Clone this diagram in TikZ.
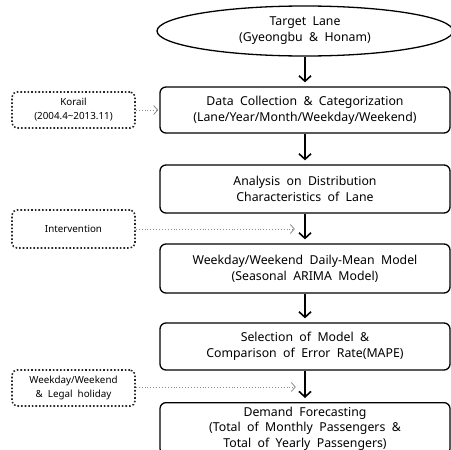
\documentclass[tikz,border=0pt]{standalone}
\usepackage{fontspec}
\setmainfont[WordSpace=2]{Noto Sans}
\usetikzlibrary{shapes.geometric,arrows.meta}
\begin{document}
\begin{tikzpicture}[x=1pt,y=-1pt,
  mainfont/.style={font=\fontsize{12.3}{16}\selectfont},
  mainbox/.style={draw=black,line width=1.3pt,rounded corners=6pt,minimum width=290pt,align=center,mainfont,inner sep=0pt},
  sidebox/.style={draw=black!85,line width=1.6pt,dotted,rounded corners=5pt,minimum width=123pt,align=center,font=\fontsize{9.8}{14}\selectfont,inner sep=0pt},
  flow/.style={line width=1.8pt,-{Straight Barb[length=5.5pt,width=12pt,line width=1.6pt]},shorten >=4pt},
  side/.style={draw=black!45,line width=0.9pt,dotted,-{Straight Barb[length=4pt,width=9pt,line width=0.8pt,sep]}},
]
\useasboundingbox (0,0) rectangle (451,450);
\clip (0,0) rectangle (451,450);
\node[draw=black,line width=1.3pt,ellipse,minimum width=296pt,minimum height=50pt,align=center,mainfont,inner sep=0pt] (t) at (305,31) {Target Lane\\(Gyeongbu \& Honam)};
\node[mainbox,minimum height=46pt] (b2) at (305,110) {Data Collection \& Categorization\\(Lane/Year/Month/Weekday/Weekend)};
\node[mainbox,minimum height=48pt] (b3) at (305,189) {Analysis on Distribution\\Characteristics of Lane};
\node[mainbox,minimum height=49pt] (b4) at (305,268.5) {Weekday/Weekend Daily-Mean Model\\(Seasonal ARIMA Model)};
\node[mainbox,minimum height=47pt] (b5) at (305,346.5) {Selection of Model \&\\Comparison of Error Rate(MAPE)};
\node[mainbox,minimum height=52pt,anchor=north,font=\fontsize{12.3}{15.5}\selectfont] (b6) at (305,402) {Demand Forecasting\\(Total of Monthly Passengers \&\\Total of Yearly Passengers)};
\node[sidebox,minimum height=36pt] (k) at (73.5,110) {Korail\\(2004.4\textasciitilde 2013.11)};
\node[sidebox,minimum height=38pt] (i) at (73.5,229) {Intervention};
\node[sidebox,minimum height=36pt] (w) at (73.5,388) {Weekday/Weekend\\\& Legal holiday};
\coordinate (ie) at (296,229);
\coordinate (we) at (297,387);
\draw[flow] (t) -- (b2);
\draw[flow] (b2) -- (b3);
\draw[flow] (b3) -- (b4);
\draw[flow] (b4) -- (b5);
\draw[flow] (b5) -- (b6);
\draw[side] (k) -- (b2);
\draw[side] (i) -- (ie);
\draw[side] (w.east |- we) -- (we);
\end{tikzpicture}
\end{document}
